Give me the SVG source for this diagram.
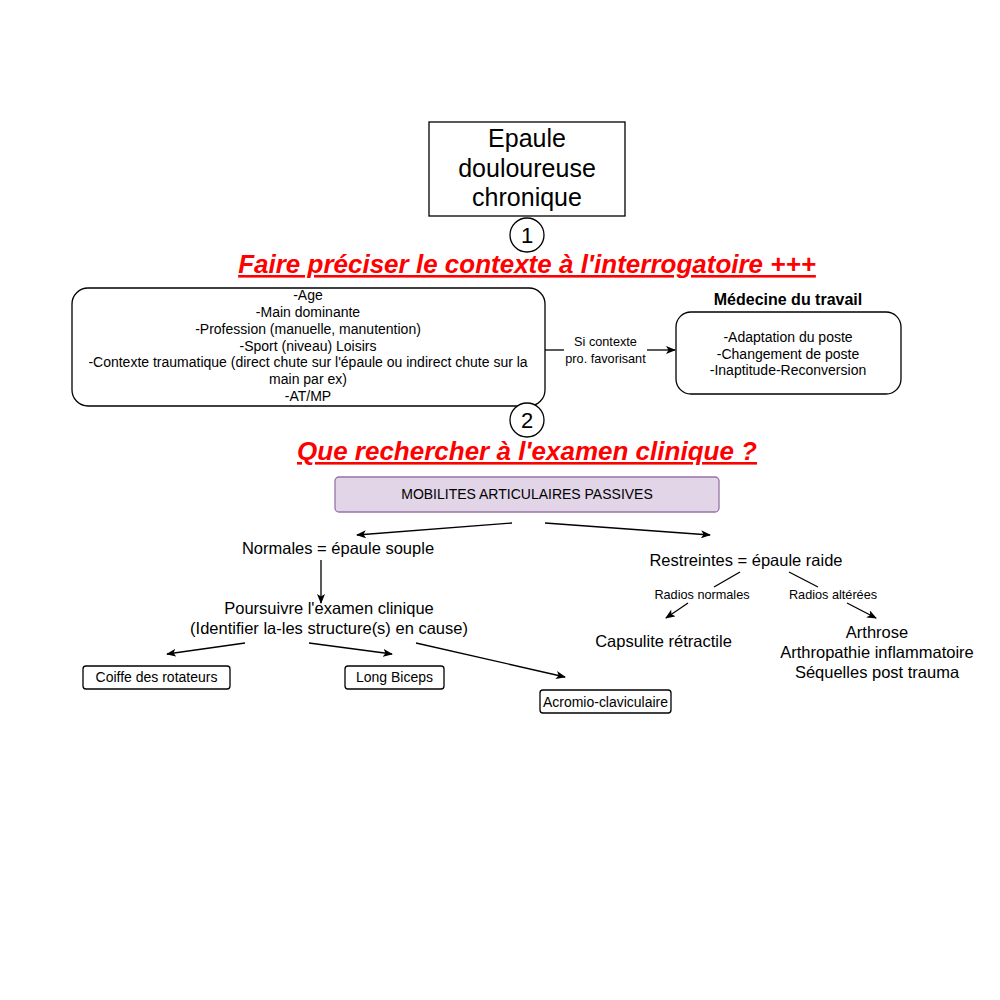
<svg xmlns="http://www.w3.org/2000/svg" width="1000" height="1000" viewBox="0 0 1000 1000">
<style>
text{font-family:"Liberation Sans",Arial,sans-serif;fill:#000;text-anchor:middle}
.box{fill:#fff;stroke:#000;stroke-width:1.3}
.t14{font-size:14px}
.t16{font-size:16.5px}
.t13{font-size:12.7px}
.title{font-size:26px;font-weight:bold;font-style:italic;fill:#ff0000;text-decoration:underline}
.ln{fill:none;stroke:#000;stroke-width:1.3}
.arr{fill:none;stroke:#000;stroke-width:1.3;marker-end:url(#ah)}
</style>
<defs>
<marker id="ah" viewBox="0 0 10 8" refX="9" refY="4" markerWidth="10" markerHeight="8" markerUnits="userSpaceOnUse" orient="auto">
<path d="M0,0 L10,4 L0,8 L2.5,4 z" fill="#000"/>
</marker>
</defs>
<rect width="1000" height="1000" fill="#fff"/>

<g id="node-epaule">
<rect class="box" x="429" y="122" width="196" height="94" stroke-width="1.5"/>
<text x="527" y="147" style="font-size:25px">Epaule</text>
<text x="527" y="177" style="font-size:25px">douloureuse</text>
<text x="527" y="206" style="font-size:25px">chronique</text>
</g>

<g id="node-step1">
<circle cx="527" cy="235" r="17" fill="#fff" stroke="#000" stroke-width="1.3"/>
<text x="527" y="243" style="font-size:22px">1</text>
</g>

<g id="title1">
<text class="title" x="527" y="273">Faire préciser le contexte à l'interrogatoire +++</text>
</g>

<g id="node-contexte">
<rect class="box" x="72" y="288" width="473" height="118" rx="16"/>
<text class="t14" x="308" y="300">-Age</text>
<text class="t14" x="308" y="317">-Main dominante</text>
<text class="t14" x="308" y="334">-Profession (manuelle, manutention)</text>
<text class="t14" x="308" y="350.5">-Sport (niveau) Loisirs</text>
<text class="t14" x="308" y="367">-Contexte traumatique (direct chute sur l'épaule ou indirect chute sur la</text>
<text class="t14" x="308" y="384">main par ex)</text>
<text class="t14" x="308" y="401">-AT/MP</text>
</g>

<g id="node-medecine">
<text x="788" y="305" style="font-size:16px;font-weight:bold">Médecine du travail</text>
<rect class="box" x="676" y="312" width="225" height="82" rx="15"/>
<text class="t14" x="788" y="341.5">-Adaptation du poste</text>
<text class="t14" x="788" y="358.5">-Changement de poste</text>
<text class="t14" x="788" y="375">-Inaptitude-Reconversion</text>
</g>

<g id="node-step2">
<circle cx="527" cy="420" r="17" fill="#fff" stroke="#000" stroke-width="1.3"/>
<text x="527" y="428" style="font-size:22px">2</text>
</g>

<g id="title2">
<text class="title" x="527" y="460">Que rechercher à l'examen clinique ?</text>
</g>

<g id="node-mobilites">
<rect x="335" y="477" width="384" height="35" rx="4" fill="#e1d5e7" stroke="#9673a6" stroke-width="1.3"/>
<text class="t14" x="527" y="499">MOBILITES ARTICULAIRES PASSIVES</text>
</g>

<g id="node-normales">
<text class="t16" x="338" y="554">Normales = épaule souple</text>
</g>

<g id="node-restreintes">
<text class="t16" x="746" y="566">Restreintes = épaule raide</text>
</g>

<g id="node-poursuivre">
<text class="t16" x="329" y="614">Poursuivre l'examen clinique</text>
<text class="t16" x="329" y="634">(Identifier la-les structure(s) en cause)</text>
</g>

<g id="node-coiffe">
<rect class="box" x="83" y="666" width="147" height="23" rx="3"/>
<text class="t14" x="156.5" y="682">Coiffe des rotateurs</text>
</g>

<g id="node-biceps">
<rect class="box" x="345" y="666" width="99" height="23" rx="3"/>
<text class="t14" x="394.5" y="682">Long Biceps</text>
</g>

<g id="node-acromio">
<rect class="box" x="540" y="690" width="131" height="23" rx="3"/>
<text class="t14" x="605.5" y="707" textLength="125" lengthAdjust="spacingAndGlyphs">Acromio-claviculaire</text>
</g>

<g id="node-capsulite">
<text class="t16" x="663.5" y="647">Capsulite rétractile</text>
</g>

<g id="node-arthrose">
<text class="t16" x="877" y="638">Arthrose</text>
<text class="t16" x="877" y="658">Arthropathie inflammatoire</text>
<text class="t16" x="877" y="678">Séquelles post trauma</text>
</g>

<g id="connectors">
<line class="ln" x1="545" y1="350" x2="564" y2="350"/>
<line class="arr" x1="647" y1="350" x2="675" y2="350"/>
<text class="t13" x="605.5" y="346">Si contexte</text>
<text class="t13" x="605.5" y="363">pro. favorisant</text>

<line class="arr" x1="512" y1="523" x2="357" y2="535"/>
<line class="arr" x1="545" y1="523" x2="710" y2="535"/>

<line class="arr" x1="321" y1="560" x2="321" y2="603"/>

<line class="arr" x1="245" y1="643" x2="167" y2="654"/>
<line class="arr" x1="309" y1="643" x2="392" y2="654"/>
<line class="arr" x1="416" y1="643" x2="565" y2="677"/>

<line class="ln" x1="740" y1="572" x2="714" y2="587"/>
<text class="t13" x="702" y="599">Radios normales</text>
<line class="arr" x1="688" y1="603" x2="666" y2="618"/>

<line class="ln" x1="789" y1="572" x2="818" y2="587"/>
<text class="t13" x="833" y="599">Radios altérées</text>
<line class="arr" x1="847" y1="603" x2="876" y2="618"/>
</g>
</svg>
